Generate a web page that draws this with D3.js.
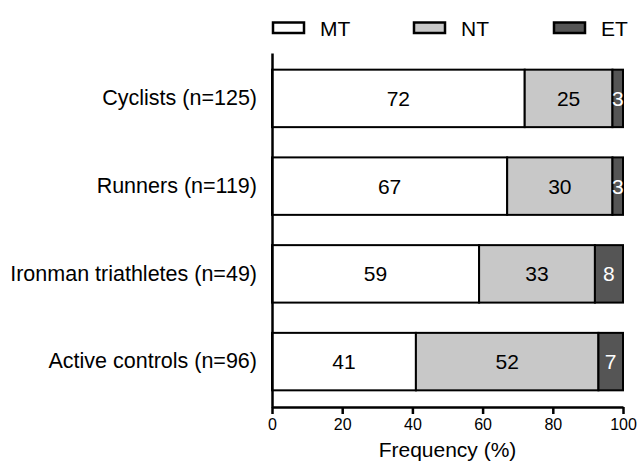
<!DOCTYPE html>
<html>
<head>
<meta charset="utf-8">
<script src="https://cdn.jsdelivr.net/npm/d3@7"></script>
<style>
  body { margin: 0; background: #fff; }
  svg { display: block; font-family: "Liberation Sans", Arial, sans-serif; }
</style>
</head>
<body>
<svg id="chart" width="637" height="464"></svg>
<script>
// Groups, top to bottom
const groups = ["Cyclists (n=125)", "Runners (n=119)", "Ironman triathletes (n=49)", "Active controls (n=96)"];
// Chronotype shares (%) per group
const mt = [72, 67, 59, 41];
const nt = [25, 30, 33, 52];
const et = [3, 3, 8, 7];
const seriesNames = ["MT", "NT", "ET"];
const seriesFill = ["#ffffff", "#c8c8c8", "#555555"];
const seriesText = ["#000000", "#000000", "#ffffff"];
const xTicks = [0, 20, 40, 60, 80, 100];

const FONT = "Liberation Sans, Arial, sans-serif";
const FS = 21;        // labels, legend, axis title
const FS_TICK = 16;   // x tick labels

const svg = d3.select("#chart");
const margin = { left: 272, right: 14, top: 53, bottom: 57 };
const W = 637, H = 464;

const x = d3.scaleLinear().domain([0, 100]).range([margin.left, W - margin.right]);
const y = d3.scaleBand().domain(groups).range([margin.top, H - margin.bottom]).paddingInner(0.345).paddingOuter(0.19);

const rows = groups.map((g, i) => ({ group: g, MT: mt[i], NT: nt[i], ET: et[i] }));
const stacked = d3.stack().keys(seriesNames)(rows);

// Stacked segments with their value labels
stacked.forEach((layer, si) => {
  const gLayer = svg.append("g");
  gLayer.selectAll("rect").data(layer).join("rect")
    .attr("x", d => x(d[0]))
    .attr("y", d => y(d.data.group))
    .attr("width", d => x(d[1]) - x(d[0]))
    .attr("height", y.bandwidth())
    .attr("fill", seriesFill[si])
    .attr("stroke", "#000")
    .attr("stroke-width", 2);
  gLayer.selectAll("text").data(layer).join("text")
    .attr("x", d => (x(d[0]) + x(d[1])) / 2)
    .attr("y", d => y(d.data.group) + y.bandwidth() / 2)
    .attr("dy", "0.36em")
    .attr("text-anchor", "middle")
    .attr("font-size", FS)
    .attr("fill", seriesText[si])
    .text(d => d.data[seriesNames[si]]);
});

// X axis
const xAxis = svg.append("g")
  .attr("transform", `translate(0,${H - margin.bottom})`)
  .call(d3.axisBottom(x).tickValues(xTicks).tickSize(7).tickPadding(5).tickSizeOuter(0));
xAxis.select(".domain").attr("stroke-width", 2.5);
xAxis.selectAll(".tick line").attr("stroke-width", 2.5);
xAxis.selectAll(".tick text").attr("font-size", FS_TICK).attr("fill", "#000").attr("font-family", FONT);

svg.append("text")
  .attr("x", x(50)).attr("y", 457)
  .attr("text-anchor", "middle").attr("font-size", FS)
  .text("Frequency (%)");

// Y axis
const yAxis = svg.append("g")
  .attr("transform", `translate(${margin.left},0)`)
  .call(d3.axisLeft(y).tickSize(0).tickPadding(15));
yAxis.select(".domain").attr("stroke-width", 2.5);
yAxis.selectAll(".tick text").attr("font-size", 21.5).attr("fill", "#000").attr("font-family", FONT);

// Legend
const legendX = [272, 413, 553];
const legend = svg.append("g");
seriesNames.forEach((s, i) => {
  legend.append("rect")
    .attr("x", legendX[i] + 1).attr("y", 22.5)
    .attr("width", 31).attr("height", 10.5)
    .attr("fill", seriesFill[i]).attr("stroke", "#000").attr("stroke-width", 2.5);
  legend.append("text")
    .attr("x", legendX[i] + 48).attr("y", 28).attr("dy", "0.36em")
    .attr("font-size", FS).text(s);
});
</script>
</body>
</html>
